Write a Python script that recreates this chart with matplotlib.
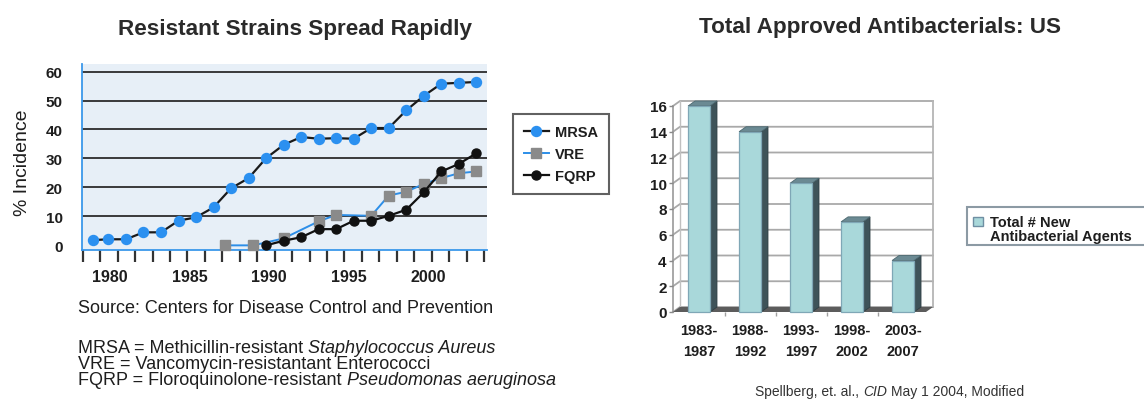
import numpy as np
import matplotlib
matplotlib.use("Agg")
import matplotlib.pyplot as plt
from matplotlib.patches import Polygon, Rectangle
from matplotlib.lines import Line2D

plt.rcParams['font.family'] = ['Liberation Sans', 'DejaVu Sans']

# ---------------- data: resistant strains (% incidence) ----------------
mrsa_years = [1978.9, 1979.9, 1981.0, 1982.1, 1983.2, 1984.3, 1985.4, 1986.5,
              1987.6, 1988.7, 1989.8, 1990.9, 1992.0, 1993.1, 1994.2, 1995.3,
              1996.4, 1997.5, 1998.6, 1999.7, 2000.8, 2001.9, 2003.0]
mrsa_pct = [1.8, 2.1, 2.1, 4.5, 4.5, 8.5, 9.7, 13.1, 19.7, 23.2, 30.1, 34.7,
            37.4, 36.8, 37.0, 36.8, 40.5, 40.5, 46.6, 51.6, 55.8, 56.1, 56.4]

vre_years = [1987.2, 1989.0, 1990.9, 1993.1, 1994.2, 1996.4, 1997.5, 1998.6,
             1999.7, 2000.8, 2001.9, 2003.0]
vre_pct = [0.0, 0.0, 2.4, 8.3, 10.5, 10.2, 17.2, 18.5, 21.2, 23.2, 24.9, 25.5]

fqrp_years = [1989.8, 1990.9, 1992.0, 1993.1, 1994.2, 1995.3, 1996.4, 1997.5,
              1998.6, 1999.7, 2000.8, 2001.9, 2003.0]
fqrp_pct = [0.0, 1.6, 2.8, 5.6, 5.6, 8.5, 8.5, 10.2, 12.3, 18.3, 25.5, 28.1, 31.8]

year_ticks = [1980, 1985, 1990, 1995, 2000]
pct_ticks = [0, 10, 20, 30, 40, 50, 60]

# ---------------- data: approved antibacterials ----------------
periods = ['1983-\n1987', '1988-\n1992', '1993-\n1997', '1998-\n2002', '2003-\n2007']
new_agents = [16, 14, 10, 7, 4]
count_ticks = [0, 2, 4, 6, 8, 10, 12, 14, 16]

W, H, DPI = 1144, 402, 100
fig = plt.figure(figsize=(W / DPI, H / DPI), dpi=DPI)
fig.patch.set_facecolor('white')
TXT = '#1e1e1e'


def fx(px):
    return px / W


def fy(py):
    return 1 - py / H


def rich_line(x_px, y_px, pieces, size, color=TXT):
    """Draw a line of text made of (string, style) pieces, left to right."""
    renderer = fig.canvas.get_renderer()
    gap = 0.278 * size * DPI / 72
    x = x_px
    for s, style in pieces:
        t = fig.text(fx(x), fy(y_px), s, fontsize=size, style=style,
                     ha='left', va='baseline', color=color)
        bb = t.get_window_extent(renderer)
        x = bb.x1 + gap


# ================= left: line chart =================
ax1 = fig.add_axes([fx(82), fy(251), (487 - 82) / W, (251 - 65) / H])
ax1.set_facecolor('#e7eff7')
ax1.set_xlim(1978.24, 2003.67)
ax1.set_ylim(-1.6, 62.6)
for side in ('top', 'right'):
    ax1.spines[side].set_visible(False)
for side in ('left', 'bottom'):
    ax1.spines[side].set_color('#3b98ea')
    ax1.spines[side].set_linewidth(1.3)

for v in pct_ticks[1:]:
    ax1.axhline(v, color='#3a3a3a', lw=1.4, zorder=1)

ax1.set_yticks(pct_ticks)
ax1.set_yticklabels([str(v) for v in pct_ticks], fontweight='bold', fontsize=11, color=TXT)
ax1.tick_params(axis='y', length=0, pad=14)

ax1.set_xticks(year_ticks)
ax1.set_xticklabels([str(v) for v in year_ticks], fontweight='bold', fontsize=11.5, color=TXT)
ax1.tick_params(axis='x', which='major', length=0, pad=14)
ax1.set_xticks(np.linspace(1978.29, 2003.48, 24), minor=True)
ax1.tick_params(axis='x', which='minor', length=8.5, width=1.6, color='#333333', direction='out')

h_vre, = ax1.plot(vre_years, vre_pct, color='#2c8ee8', lw=1.4, marker='s', ms=6.5,
                  mfc='#8a8a8a', mec='#8a8a8a', zorder=3, clip_on=False)
h_fqrp, = ax1.plot(fqrp_years, fqrp_pct, color='#111111', lw=1.6, marker='o', ms=6.5,
                   mfc='#111111', mec='#111111', zorder=4, clip_on=False)
h_mrsa, = ax1.plot(mrsa_years, mrsa_pct, color='#1a1a1a', lw=1.6, marker='o', ms=7.2,
                   mfc='#2b90f0', mec='#2b90f0', zorder=5, clip_on=False)

leg = ax1.legend([h_mrsa, h_vre, h_fqrp], ['MRSA', 'VRE', 'FQRP'],
                 loc='upper left', bbox_to_anchor=(fx(513), fy(115)),
                 bbox_transform=fig.transFigure, frameon=True, fancybox=False,
                 edgecolor='#3a3a3a', prop={'weight': 'bold', 'size': 10.5},
                 handlelength=1.7, handletextpad=0.4, labelspacing=0.55,
                 borderpad=0.75, borderaxespad=0)
leg.get_frame().set_linewidth(1.5)
for t in leg.get_texts():
    t.set_color(TXT)

fig.text(fx(23), fy(163), '% Incidence', rotation=90, ha='center', va='center',
         fontsize=14, color=TXT)
fig.text(fx(294.5), fy(35), 'Resistant Strains Spread Rapidly', ha='center',
         va='baseline', fontsize=16.2, fontweight='bold', color='#2a2a2a')

rich_line(78, 313, [('Source: Centers for Disease Control and Prevention', 'normal')], 13)
rich_line(78, 353, [('MRSA = Methicillin-resistant', 'normal'),
                    ('Staphylococcus Aureus', 'italic')], 13)
rich_line(78, 369, [('VRE = Vancomycin-resistantant Enterococci', 'normal')], 13)
rich_line(78, 385, [('FQRP = Floroquinolone-resistant', 'normal'),
                    ('Pseudomonas aeruginosa', 'italic')], 13)

# ================= right: 3-D style bar chart =================
ax2 = fig.add_axes([fx(673), fy(313), (926 - 673) / W, (313 - 107) / H])
x0, x1 = -0.51, 4.45
ax2.set_xlim(x0, x1)
ax2.set_ylim(0, 16)
for s in ax2.spines.values():
    s.set_visible(False)
ax2.patch.set_visible(False)

dx = 7 * (x1 - x0) / (926 - 673)   # depth offset, data units
dy = 5 * 16 / (313 - 107)

GRID = '#a9a9a9'
# back wall
ax2.add_patch(Polygon([(x0 + dx, dy), (x1 + dx, dy), (x1 + dx, 16 + dy), (x0 + dx, 16 + dy)],
                      closed=True, facecolor='white', edgecolor='none', zorder=0, clip_on=False))
for v in count_ticks:
    ax2.add_line(Line2D([x0, x0 + dx, x1 + dx], [v, v + dy, v + dy], color=GRID,
                        lw=1.3, zorder=1, clip_on=False))
ax2.add_line(Line2D([x1 + dx, x1 + dx], [dy, 16 + dy], color='#b5b5b5', lw=1.3, zorder=1, clip_on=False))
ax2.add_line(Line2D([x0 + dx, x0 + dx], [dy, 16 + dy], color='#c0c0c0', lw=1.0, zorder=1, clip_on=False))
ax2.add_line(Line2D([x0, x0], [0, 16], color='#9a9a9a', lw=1.2, zorder=1, clip_on=False))
# floor
ax2.add_patch(Polygon([(x0, 0), (x1, 0), (x1 + dx, dy), (x0 + dx, dy)], closed=True,
                      facecolor='#5c5c5c', edgecolor='none', zorder=2, clip_on=False))

bw = 0.43
for i, v in enumerate(new_agents):
    l, r = i - bw / 2, i + bw / 2
    ax2.add_patch(Polygon([(r, 0), (r + dx, dy), (r + dx, v + dy), (r, v)], closed=True,
                          facecolor='#3e5359', edgecolor='#2f3f44', lw=0.6, zorder=3, clip_on=False))
    ax2.add_patch(Polygon([(l, v), (l + dx, v + dy), (r + dx, v + dy), (r, v)], closed=True,
                          facecolor='#6b8a93', edgecolor='#4c6870', lw=0.6, zorder=3, clip_on=False))
    ax2.add_patch(Rectangle((l, 0), bw, v, facecolor='#a9d8da', edgecolor='#7fa7b6',
                            lw=0.9, zorder=4, clip_on=False))

ax2.set_yticks(count_ticks)
ax2.set_yticklabels([str(v) for v in count_ticks], fontweight='bold', fontsize=11, color=TXT)
ax2.tick_params(axis='y', length=3, width=1, color='#8a8a8a', pad=1.5)
ax2.set_xticks(range(len(periods)))
ax2.set_xticklabels(periods, fontweight='bold', fontsize=10.5, color=TXT, linespacing=1.6)
ax2.tick_params(axis='x', which='major', length=0, pad=8)
ax2.set_xticks([0.5, 1.5, 2.5, 3.5], minor=True)
ax2.tick_params(axis='x', which='minor', length=3, width=1, color='#a0a0a0')

fig.text(fx(880), fy(33), 'Total Approved Antibacterials: US', ha='center', va='baseline',
         fontsize=16.2, fontweight='bold', color='#2a2a2a')

# legend box for the bars (runs off the right edge)
fig.add_artist(Rectangle((fx(967), fy(246)), (1175 - 967) / W, (246 - 208) / H,
                         transform=fig.transFigure, facecolor='white', edgecolor='#8c9aa4',
                         lw=1.5, clip_on=False))
fig.add_artist(Rectangle((fx(973), fy(227)), 10 / W, 9 / H, transform=fig.transFigure,
                         facecolor='#a9d8da', edgecolor='#6f8fa3', lw=1.0))
fig.text(fx(990), fy(227), 'Total # New', ha='left', va='baseline', fontsize=10.5,
         fontweight='bold', color=TXT)
fig.text(fx(990), fy(241), 'Antibacterial Agents', ha='left', va='baseline', fontsize=10.5,
         fontweight='bold', color=TXT)

rich_line(755, 396, [('Spellberg, et. al.,', 'normal'), ('CID', 'italic'),
                     ('May 1 2004, Modified', 'normal')], 10, color='#333333')

fig.savefig('out.png', dpi=DPI, facecolor='white')
